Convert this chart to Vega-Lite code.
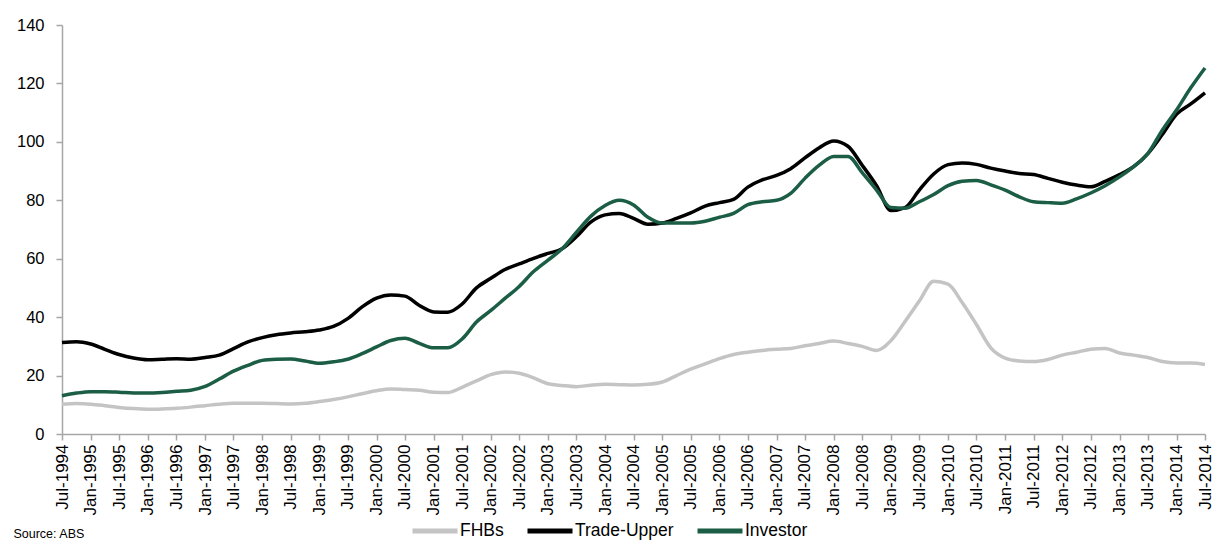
{
  "$schema": "https://vega.github.io/schema/vega-lite/v6.json",
  "width": 1143,
  "height": 409,
  "autosize": "none",
  "padding": {"left": 62, "top": 25, "right": 11, "bottom": 107},
  "background": "white",
  "config": {"view": {"stroke": null}, "font": "Liberation Sans"},
  "title": {"text": "Source: ABS", "orient": "bottom", "anchor": "start", "frame": "bounds", "dx": -3, "dy": -13, "offset": 0, "fontSize": 12.5, "fontWeight": "normal", "color": "#000000", "font": "Liberation Sans"},
  "data": {"values": [
    {"d": "1994-07-01", "FHBs": 10.2, "Trade-Upper": 31.3, "Investor": 13.1},
    {"d": "1994-10-01", "FHBs": 10.4, "Trade-Upper": 31.6, "Investor": 14.0},
    {"d": "1995-01-01", "FHBs": 10.2, "Trade-Upper": 30.8, "Investor": 14.5},
    {"d": "1995-04-01", "FHBs": 9.7, "Trade-Upper": 29.0, "Investor": 14.5},
    {"d": "1995-07-01", "FHBs": 9.1, "Trade-Upper": 27.2, "Investor": 14.3},
    {"d": "1995-10-01", "FHBs": 8.7, "Trade-Upper": 26.0, "Investor": 14.0},
    {"d": "1996-01-01", "FHBs": 8.5, "Trade-Upper": 25.4, "Investor": 14.0},
    {"d": "1996-04-01", "FHBs": 8.6, "Trade-Upper": 25.6, "Investor": 14.2},
    {"d": "1996-07-01", "FHBs": 8.8, "Trade-Upper": 25.8, "Investor": 14.6},
    {"d": "1996-10-01", "FHBs": 9.2, "Trade-Upper": 25.6, "Investor": 15.0},
    {"d": "1997-01-01", "FHBs": 9.7, "Trade-Upper": 26.2, "Investor": 16.3},
    {"d": "1997-04-01", "FHBs": 10.2, "Trade-Upper": 27.0, "Investor": 18.8},
    {"d": "1997-07-01", "FHBs": 10.5, "Trade-Upper": 29.2, "Investor": 21.5},
    {"d": "1997-10-01", "FHBs": 10.5, "Trade-Upper": 31.5, "Investor": 23.5},
    {"d": "1998-01-01", "FHBs": 10.5, "Trade-Upper": 33.0, "Investor": 25.2},
    {"d": "1998-04-01", "FHBs": 10.4, "Trade-Upper": 34.0, "Investor": 25.6},
    {"d": "1998-07-01", "FHBs": 10.3, "Trade-Upper": 34.6, "Investor": 25.7},
    {"d": "1998-10-01", "FHBs": 10.5, "Trade-Upper": 35.0, "Investor": 25.0},
    {"d": "1999-01-01", "FHBs": 11.1, "Trade-Upper": 35.6, "Investor": 24.2},
    {"d": "1999-04-01", "FHBs": 11.8, "Trade-Upper": 36.8, "Investor": 24.7},
    {"d": "1999-07-01", "FHBs": 12.7, "Trade-Upper": 39.5, "Investor": 25.6},
    {"d": "1999-10-01", "FHBs": 13.8, "Trade-Upper": 43.5, "Investor": 27.5},
    {"d": "2000-01-01", "FHBs": 14.8, "Trade-Upper": 46.5, "Investor": 29.8},
    {"d": "2000-04-01", "FHBs": 15.4, "Trade-Upper": 47.6, "Investor": 32.0},
    {"d": "2000-07-01", "FHBs": 15.2, "Trade-Upper": 47.2, "Investor": 32.8},
    {"d": "2000-10-01", "FHBs": 15.0, "Trade-Upper": 44.0, "Investor": 31.0},
    {"d": "2001-01-01", "FHBs": 14.3, "Trade-Upper": 41.8, "Investor": 29.5},
    {"d": "2001-04-01", "FHBs": 14.2, "Trade-Upper": 41.7, "Investor": 29.5},
    {"d": "2001-07-01", "FHBs": 16.0, "Trade-Upper": 44.5, "Investor": 32.5},
    {"d": "2001-10-01", "FHBs": 18.2, "Trade-Upper": 50.0, "Investor": 38.3},
    {"d": "2002-01-01", "FHBs": 20.3, "Trade-Upper": 53.3, "Investor": 42.3},
    {"d": "2002-04-01", "FHBs": 21.2, "Trade-Upper": 56.3, "Investor": 46.4},
    {"d": "2002-07-01", "FHBs": 20.8, "Trade-Upper": 58.2, "Investor": 50.5},
    {"d": "2002-10-01", "FHBs": 19.2, "Trade-Upper": 60.1, "Investor": 55.6},
    {"d": "2003-01-01", "FHBs": 17.2, "Trade-Upper": 61.8, "Investor": 59.5},
    {"d": "2003-04-01", "FHBs": 16.6, "Trade-Upper": 63.4, "Investor": 63.4},
    {"d": "2003-07-01", "FHBs": 16.2, "Trade-Upper": 67.5, "Investor": 69.0},
    {"d": "2003-10-01", "FHBs": 16.7, "Trade-Upper": 72.5, "Investor": 74.5},
    {"d": "2004-01-01", "FHBs": 17.0, "Trade-Upper": 75.0, "Investor": 78.2},
    {"d": "2004-04-01", "FHBs": 16.9, "Trade-Upper": 75.5, "Investor": 80.0},
    {"d": "2004-07-01", "FHBs": 16.8, "Trade-Upper": 73.8, "Investor": 78.4},
    {"d": "2004-10-01", "FHBs": 17.0, "Trade-Upper": 71.8, "Investor": 74.2},
    {"d": "2005-01-01", "FHBs": 17.8, "Trade-Upper": 72.2, "Investor": 72.2},
    {"d": "2005-04-01", "FHBs": 20.0, "Trade-Upper": 73.8, "Investor": 72.2},
    {"d": "2005-07-01", "FHBs": 22.2, "Trade-Upper": 75.7, "Investor": 72.2},
    {"d": "2005-10-01", "FHBs": 24.0, "Trade-Upper": 78.0, "Investor": 72.8},
    {"d": "2006-01-01", "FHBs": 25.8, "Trade-Upper": 79.2, "Investor": 74.2},
    {"d": "2006-04-01", "FHBs": 27.2, "Trade-Upper": 80.3, "Investor": 75.5},
    {"d": "2006-07-01", "FHBs": 28.0, "Trade-Upper": 84.5, "Investor": 78.5},
    {"d": "2006-10-01", "FHBs": 28.6, "Trade-Upper": 87.0, "Investor": 79.5},
    {"d": "2007-01-01", "FHBs": 29.0, "Trade-Upper": 88.5, "Investor": 80.0},
    {"d": "2007-04-01", "FHBs": 29.3, "Trade-Upper": 90.8, "Investor": 82.4},
    {"d": "2007-07-01", "FHBs": 30.2, "Trade-Upper": 94.5, "Investor": 87.5},
    {"d": "2007-10-01", "FHBs": 31.0, "Trade-Upper": 98.0, "Investor": 92.0},
    {"d": "2008-01-01", "FHBs": 31.8, "Trade-Upper": 100.3, "Investor": 95.0},
    {"d": "2008-04-01", "FHBs": 31.0, "Trade-Upper": 98.5, "Investor": 95.0},
    {"d": "2008-07-01", "FHBs": 30.0, "Trade-Upper": 92.0, "Investor": 89.5},
    {"d": "2008-10-01", "FHBs": 28.6, "Trade-Upper": 85.0, "Investor": 83.5},
    {"d": "2009-01-01", "FHBs": 32.0, "Trade-Upper": 76.5, "Investor": 77.5},
    {"d": "2009-04-01", "FHBs": 38.5, "Trade-Upper": 77.5, "Investor": 77.3},
    {"d": "2009-07-01", "FHBs": 45.5, "Trade-Upper": 83.5, "Investor": 79.5},
    {"d": "2009-10-01", "FHBs": 52.3, "Trade-Upper": 89.0, "Investor": 82.0},
    {"d": "2010-01-01", "FHBs": 51.3, "Trade-Upper": 92.2, "Investor": 85.0},
    {"d": "2010-04-01", "FHBs": 45.0, "Trade-Upper": 92.8, "Investor": 86.5},
    {"d": "2010-07-01", "FHBs": 37.5, "Trade-Upper": 92.3, "Investor": 86.8},
    {"d": "2010-10-01", "FHBs": 29.5, "Trade-Upper": 91.0, "Investor": 85.3},
    {"d": "2011-01-01", "FHBs": 26.0, "Trade-Upper": 90.0, "Investor": 83.5},
    {"d": "2011-04-01", "FHBs": 25.0, "Trade-Upper": 89.2, "Investor": 81.2},
    {"d": "2011-07-01", "FHBs": 24.8, "Trade-Upper": 88.8, "Investor": 79.5},
    {"d": "2011-10-01", "FHBs": 25.5, "Trade-Upper": 87.5, "Investor": 79.2},
    {"d": "2012-01-01", "FHBs": 27.0, "Trade-Upper": 86.2, "Investor": 79.0},
    {"d": "2012-04-01", "FHBs": 28.0, "Trade-Upper": 85.2, "Investor": 80.5},
    {"d": "2012-07-01", "FHBs": 29.0, "Trade-Upper": 84.6, "Investor": 82.5},
    {"d": "2012-10-01", "FHBs": 29.3, "Trade-Upper": 86.5, "Investor": 85.0},
    {"d": "2013-01-01", "FHBs": 27.7, "Trade-Upper": 88.8, "Investor": 88.0},
    {"d": "2013-04-01", "FHBs": 27.0, "Trade-Upper": 91.5, "Investor": 91.5},
    {"d": "2013-07-01", "FHBs": 26.2, "Trade-Upper": 96.0, "Investor": 96.0},
    {"d": "2013-10-01", "FHBs": 24.8, "Trade-Upper": 102.5, "Investor": 104.0},
    {"d": "2014-01-01", "FHBs": 24.3, "Trade-Upper": 109.5, "Investor": 111.0},
    {"d": "2014-04-01", "FHBs": 24.3, "Trade-Upper": 113.0, "Investor": 118.5},
    {"d": "2014-07-01", "FHBs": 23.8, "Trade-Upper": 116.8, "Investor": 125.3}
  ]},
  "transform": [{"fold": ["FHBs", "Trade-Upper", "Investor"], "as": ["series", "value"]}],
  "mark": {"type": "line", "strokeWidth": 3.5, "interpolate": "monotone"},
  "encoding": {
    "x": {
      "field": "d", "type": "temporal",
      "scale": {"type": "utc", "domain": [{"year": 1994, "month": 7, "date": 1, "utc": true}, {"year": 2014, "month": 7, "date": 1, "utc": true}], "nice": false},
      "axis": {
        "title": null,
        "labelExpr": "utcFormat(datum.value, '%b-%Y')",
        "tickCount": {"interval": "month", "step": 6},
        "labelAngle": -90, "labelFontSize": 17, "labelColor": "#000000", "labelPadding": 4,
        "domainColor": "#a6a6a6", "domainWidth": 1.5, "tickColor": "#a6a6a6", "tickWidth": 1.5, "tickSize": 6,
        "grid": false, "labelOverlap": false, "labelFont": "Liberation Sans"
      }
    },
    "y": {
      "field": "value", "type": "quantitative",
      "scale": {"domain": [0, 140], "nice": false},
      "axis": {
        "title": null, "values": [0, 20, 40, 60, 80, 100, 120, 140],
        "labelFontSize": 16.5, "labelColor": "#000000", "labelPadding": 12,
        "domainColor": "#a6a6a6", "domainWidth": 1.5, "tickColor": "#a6a6a6", "tickWidth": 1.5, "tickSize": 6,
        "grid": false, "labelFont": "Liberation Sans"
      }
    },
    "color": {
      "field": "series", "type": "nominal",
      "scale": {"domain": ["FHBs", "Trade-Upper", "Investor"], "range": ["#c4c4c4", "#000000", "#1b5e45"]},
      "legend": {
        "title": null, "orient": "none", "direction": "horizontal",
        "legendX": 348, "legendY": 481,
        "symbolType": "stroke", "symbolSize": 2025, "symbolStrokeWidth": 5,
        "labelFontSize": 17.5, "labelColor": "#000000", "labelOffset": 0,
        "columnPadding": 13, "labelFont": "Liberation Sans"
      }
    }
  }
}
